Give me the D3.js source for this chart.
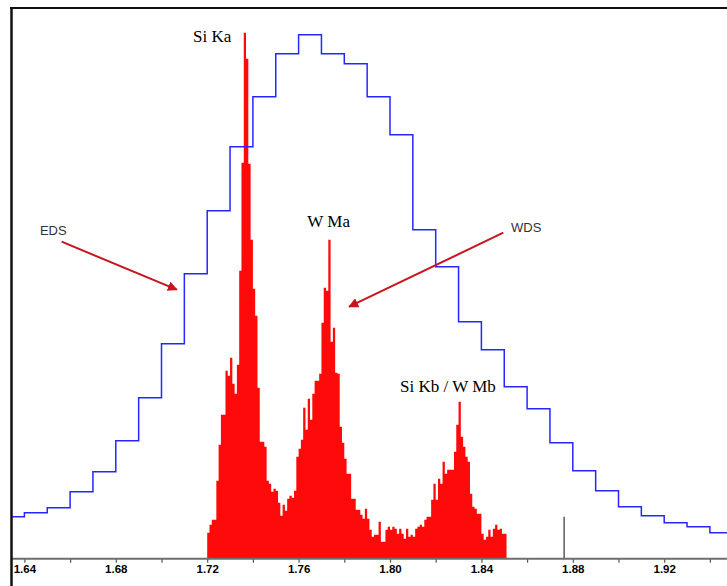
<!DOCTYPE html>
<html>
<head>
<meta charset="utf-8">
<script src="https://cdn.jsdelivr.net/npm/d3@7"></script>
<style>
  html, body { margin: 0; padding: 0; background: #fff; }
  svg { display: block; }
</style>
</head>
<body>
<svg id="chart" width="727" height="586"></svg>
<script>
// WDS scan: 1 eV steps starting at 1.720 keV
const wdsStart = 1.720;
const wdsStep = 0.001;
const wdsCounts = [
  26, 34, 39, 39, 78, 114, 144, 144, 188, 183,
  201, 175, 165, 194, 288, 396, 526, 500, 395, 319,
  270, 243, 171, 117, 117, 112, 78, 75, 67, 70,
  68, 56, 43, 54, 48, 60, 63, 61, 68, 102,
  110, 119, 151, 129, 160, 139, 165, 178, 178, 185,
  236, 271, 268, 319, 217, 231, 186, 185, 132, 116,
  100, 85, 85, 60, 60, 49, 49, 44, 40, 50,
  40, 29, 22, 24, 24, 37, 17, 17, 29, 32,
  29, 32, 30, 25, 30, 25, 20, 30, 22, 24,
  22, 30, 32, 34, 32, 39, 42, 42, 59, 75,
  59, 80, 75, 97, 85, 89, 89, 89, 107, 134,
  157, 122, 112, 102, 97, 65, 52, 50, 45, 45,
  25, 19, 22, 29, 22, 30, 34, 29, 30, 25, 25
];

// EDS spectrum: 10 eV channels starting at 1.63 keV (same intensity scale)
const edsStart = 1.63;
const edsStep = 0.01;
const edsCounts = [
  42, 46, 51, 67, 87, 118, 161, 215, 285, 348,
  412, 462, 505, 524, 505, 495, 462, 424, 329, 292,
  237, 209, 172, 150, 116, 88, 68, 52, 43, 36,
  32, 26
];

// Peak labels (energy = left edge of text, value = baseline)
const peakLabels = [
  { text: "Si Ka", energy: 1.7138, value: 517 },
  { text: "W Ma", energy: 1.7638, value: 332 },
  { text: "Si Kb / W Mb", energy: 1.8044, value: 167 }
];
// Series annotations with their arrows
const seriesNotes = [
  { text: "EDS", energy: 1.6468, value: 324, fromEnergy: 1.6563, fromValue: 317, tipEnergy: 1.7067, tipValue: 269 },
  { text: "WDS", energy: 1.8530, value: 327, fromEnergy: 1.8496, fromValue: 326, tipEnergy: 1.7821, tipValue: 252 }
];
const markerEnergy = 1.8762;
const markerValue = 42;

const tickValues = [1.64, 1.66, 1.68, 1.70, 1.72, 1.74, 1.76, 1.78, 1.80, 1.82, 1.84, 1.86, 1.88, 1.90, 1.92, 1.94];
const labelValues = [1.64, 1.68, 1.72, 1.76, 1.80, 1.84, 1.88, 1.92];

const W = 727, H = 586;
const plot = { left: 12, top: 8, right: 727, bottom: 558.7 };

const svg = d3.select("#chart");

const x = d3.scaleLinear()
  .domain([1.72 - (207.2 - plot.left) / 2285, 1.72 + (plot.right - 207.2) / 2285])
  .range([plot.left, plot.right]);
const y = d3.scaleLinear().domain([0, 525]).range([plot.bottom, 33.7]);

const defs = svg.append("defs");
defs.append("clipPath").attr("id", "plotclip")
  .append("rect")
  .attr("x", plot.left).attr("y", plot.top)
  .attr("width", plot.right - plot.left).attr("height", plot.bottom - plot.top);

const g = svg.append("g").attr("clip-path", "url(#plotclip)");

// WDS histogram (filled steps)
const wdsPts = wdsCounts.map((c, i) => [wdsStart + i * wdsStep, c]);
wdsPts.push([wdsStart + wdsCounts.length * wdsStep, wdsCounts[wdsCounts.length - 1]]);
const area = d3.area()
  .x(d => x(d[0]))
  .y0(y(0))
  .y1(d => y(d[1]))
  .curve(d3.curveStepAfter);
g.append("path")
  .datum(wdsPts)
  .attr("d", area)
  .attr("fill", "#ff0a0a");

// EDS spectrum (step outline)
const edsPts = edsCounts.map((c, i) => [edsStart + i * edsStep, c]);
edsPts.push([edsStart + edsCounts.length * edsStep, edsCounts[edsCounts.length - 1]]);
const line = d3.line()
  .x(d => x(d[0]))
  .y(d => y(d[1]))
  .curve(d3.curveStepAfter);
g.append("path")
  .datum(edsPts)
  .attr("d", line)
  .attr("fill", "none")
  .attr("stroke", "#2626ff")
  .attr("stroke-width", 1.5);

// position marker
g.append("line")
  .attr("x1", x(markerEnergy)).attr("x2", x(markerEnergy))
  .attr("y1", y(0)).attr("y2", y(markerValue))
  .attr("stroke", "#333").attr("stroke-width", 1.2);

// x axis
const axis = d3.axisBottom(x)
  .tickValues(tickValues)
  .tickSize(4)
  .tickPadding(2)
  .tickFormat(d => labelValues.some(v => Math.abs(v - d) < 1e-9) ? d3.format(".2f")(d) : "");
const ax = svg.append("g")
  .attr("transform", `translate(0,${plot.bottom})`)
  .call(axis);
ax.select(".domain").remove();
ax.selectAll(".tick line").attr("stroke", "#555").attr("stroke-width", 1.2);
ax.selectAll(".tick text")
  .attr("fill", "#000")
  .style("font-family", "'Liberation Sans', Arial, sans-serif")
  .style("font-size", "11.5px")
  .style("font-weight", "bold");

svg.append("line")
  .attr("x1", plot.left).attr("x2", W)
  .attr("y1", plot.bottom).attr("y2", plot.bottom)
  .attr("stroke", "#6e6e6e").attr("stroke-width", 2);

// frame: top rule and left axis
svg.append("line")
  .attr("x1", plot.left - 2).attr("x2", W)
  .attr("y1", plot.top).attr("y2", plot.top)
  .attr("stroke", "#111").attr("stroke-width", 2);
svg.append("line")
  .attr("x1", plot.left - 0.5).attr("x2", plot.left - 0.5)
  .attr("y1", plot.top - 1).attr("y2", H)
  .attr("stroke", "#111").attr("stroke-width", 2.5);

// peak labels
svg.selectAll("text.peak")
  .data(peakLabels)
  .join("text")
  .attr("class", "peak")
  .attr("x", d => x(d.energy))
  .attr("y", d => y(d.value))
  .attr("fill", "#000")
  .style("font-family", "'Liberation Serif', 'Times New Roman', serif")
  .style("font-size", "17px")
  .text(d => d.text);

// arrow head
defs.append("marker")
  .attr("id", "arrowhead")
  .attr("viewBox", "0 0 10 10")
  .attr("refX", 9).attr("refY", 5)
  .attr("markerWidth", 5).attr("markerHeight", 5)
  .attr("markerUnits", "strokeWidth")
  .attr("orient", "auto")
  .append("path")
  .attr("d", "M0,0 L10,5 L0,10 z")
  .attr("fill", "#c8141c");

svg.selectAll("text.note")
  .data(seriesNotes)
  .join("text")
  .attr("class", "note")
  .attr("x", d => x(d.energy))
  .attr("y", d => y(d.value))
  .attr("fill", "#333")
  .style("font-family", "'Liberation Sans', Arial, sans-serif")
  .style("font-size", "13px")
  .text(d => d.text);

svg.selectAll("line.arrow")
  .data(seriesNotes)
  .join("line")
  .attr("class", "arrow")
  .attr("x1", d => x(d.fromEnergy)).attr("y1", d => y(d.fromValue))
  .attr("x2", d => x(d.tipEnergy)).attr("y2", d => y(d.tipValue))
  .attr("stroke", "#c8141c")
  .attr("stroke-width", 2)
  .attr("marker-end", "url(#arrowhead)");
</script>
</body>
</html>
